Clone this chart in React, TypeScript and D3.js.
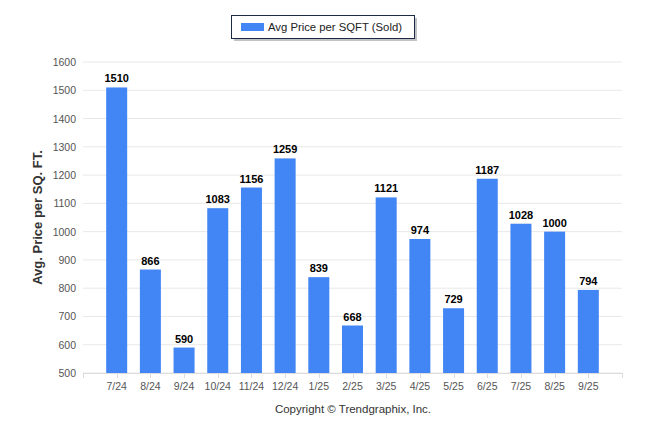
import * as d3 from "d3";

const months = ["7/24", "8/24", "9/24", "10/24", "11/24", "12/24", "1/25", "2/25", "3/25", "4/25", "5/25", "6/25", "7/25", "8/25", "9/25"];
const avgPrice = [1510, 866, 590, 1083, 1156, 1259, 839, 668, 1121, 974, 729, 1187, 1028, 1000, 794];
const yTicks = [500, 600, 700, 800, 900, 1000, 1100, 1200, 1300, 1400, 1500, 1600];

const W = 646;
const H = 434;
const left = 83;
const right = 622;
const top = 62;
const bottom = 373;
const barColor = "#4285f4";
const font = "'Liberation Sans', Arial, sans-serif";

export default function App() {
  // categories sit on integer positions with one step of padding either side
  const x = d3.scaleLinear().domain([-1, months.length]).range([left, right]);
  const y = d3.scaleLinear().domain([500, 1600]).range([bottom, top]);
  const barW = 21;

  return (
    <div style={{ position: "absolute", left: 0, top: 0 }}>
      <svg width={W} height={H} style={{ display: "block", background: "#fff" }}>
        {/* grid */}
        {yTicks.map((t) => (
          <g key={t}>
            <line x1={left} x2={right} y1={y(t)} y2={y(t)} stroke="#e8e8e8" strokeWidth={1} />
            <text x={left - 7} y={y(t) + 4} textAnchor="end" fontSize={10.5} fill="#555" fontFamily={font}>
              {t}
            </text>
          </g>
        ))}
        {/* x axis */}
        <line x1={left} x2={right} y1={bottom + 0.5} y2={bottom + 0.5} stroke="#dcdcdc" />
        {[-1, ...months.map((_, i) => i), months.length].map((p) => (
          <line key={p} x1={Math.round(x(p)) + 0.5} x2={Math.round(x(p)) + 0.5} y1={bottom} y2={bottom + 5} stroke="#dcdcdc" />
        ))}
        {months.map((m, i) => (
          <text key={m} x={x(i)} y={bottom + 17} textAnchor="middle" fontSize={10.5} fill="#555" fontFamily={font}>
            {m}
          </text>
        ))}
        {/* bars */}
        {avgPrice.map((v, i) => (
          <g key={i}>
            <rect x={x(i) - barW / 2} y={y(v)} width={barW} height={y(500) - y(v)} fill={barColor} />
            <text x={x(i)} y={y(v) - 5} textAnchor="middle" fontSize={11} fontWeight="bold" fill="#000" fontFamily={font}>
              {v}
            </text>
          </g>
        ))}
        {/* axis title */}
        <text
          transform={`translate(42,${(top + bottom) / 2}) rotate(-90)`}
          textAnchor="middle"
          fontSize={13}
          fontWeight="bold"
          fill="#333"
          fontFamily={font}
        >
          Avg. Price per SQ. FT.
        </text>
        {/* legend */}
        <rect x={234} y={18} width={183} height={23} fill="#888" opacity={0.5} />
        <rect x={231.5} y={15.5} width={183} height={23} fill="#fff" stroke="#1c2a48" strokeWidth={1} />
        <rect x={241} y={23} width={23} height={8} fill={barColor} />
        <text x={268} y={31} fontSize={11.3} fill="#222" fontFamily={font}>
          Avg Price per SQFT (Sold)
        </text>
        {/* footer */}
        <text x={353} y={413} textAnchor="middle" fontSize={11.5} fill="#333" fontFamily={font}>
          Copyright © Trendgraphix, Inc.
        </text>
      </svg>
    </div>
  );
}
